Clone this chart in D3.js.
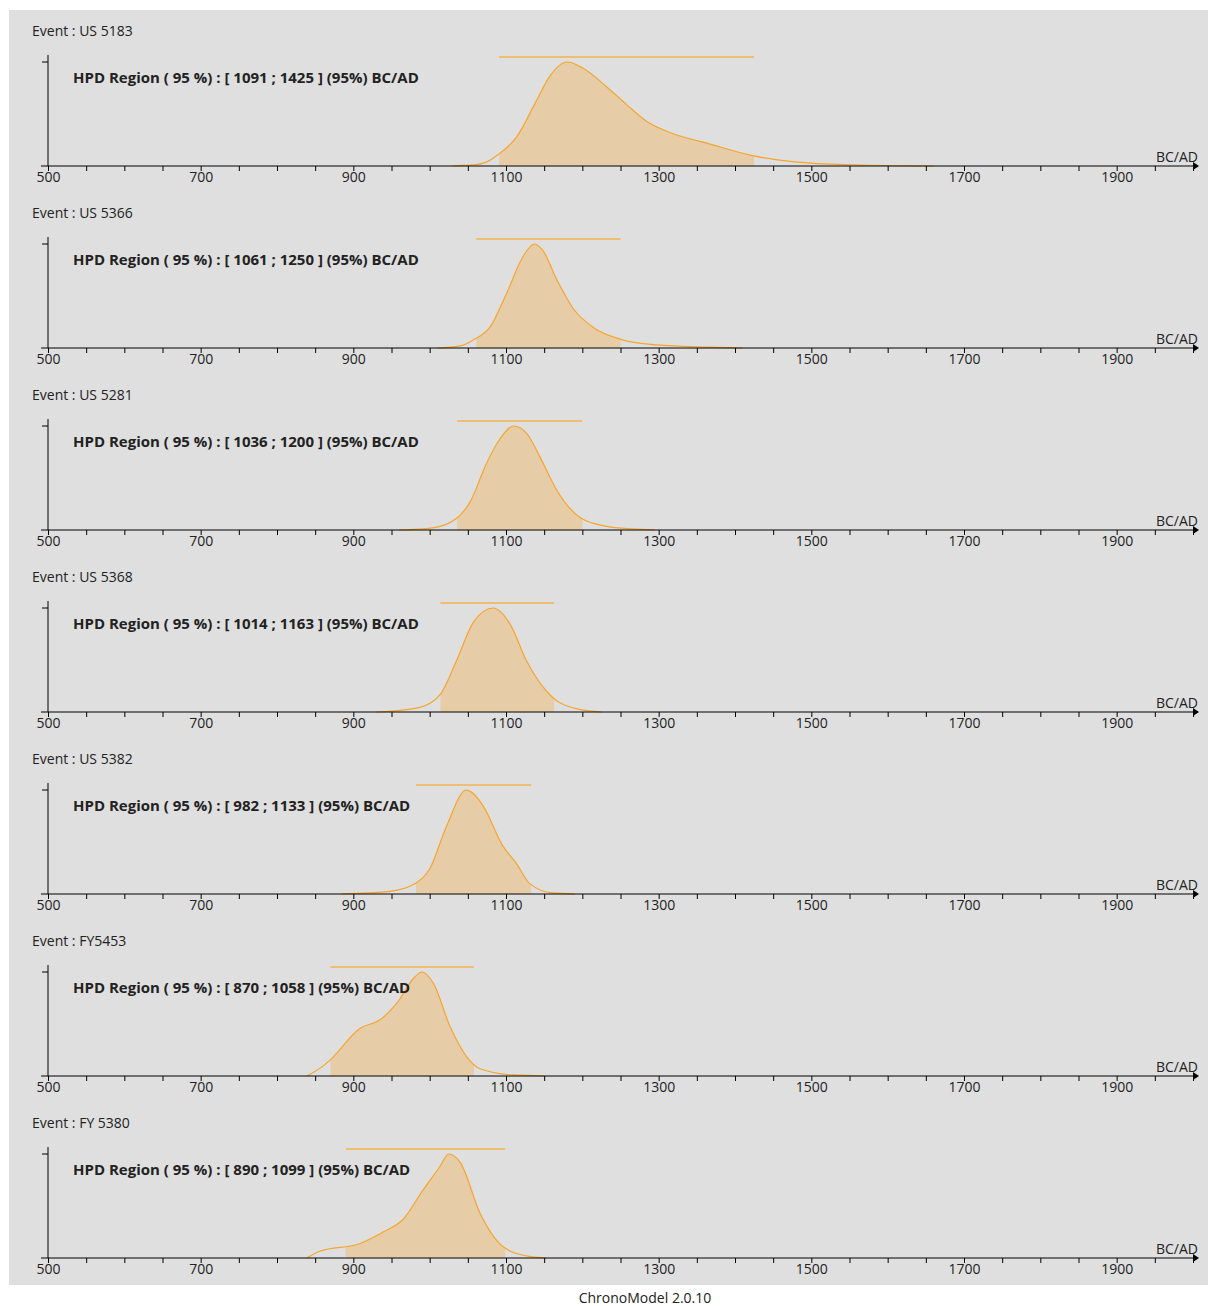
<!DOCTYPE html>
<html>
<head>
<meta charset="utf-8">
<script src="https://cdn.jsdelivr.net/npm/d3@7"></script>
<style>
  body { margin: 0; background: #ffffff; }
  svg text { font-family: "Open Sans", "Noto Sans", sans-serif; fill: #222; }
</style>
</head>
<body>
<div id="chart"></div>
<script>
// Event names and 95% HPD regions
const eventNames = ["US 5183", "US 5366", "US 5281", "US 5368", "US 5382", "FY5453", "FY 5380"];
const hpdStart = [1091, 1061, 1036, 1014, 982, 870, 890];
const hpdEnd = [1425, 1250, 1200, 1163, 1133, 1058, 1099];

// Posterior densities (year, relative density)
const densityUS5183 = [[1030, 0], [1057, 0.01], [1075, 0.04], [1089, 0.106], [1114, 0.28], [1140, 0.63], [1157, 0.86],
  [1180, 1.0], [1201, 0.94], [1232, 0.76], [1258, 0.59], [1284, 0.43], [1319, 0.31], [1363, 0.22], [1423, 0.10],
  [1494, 0.03], [1581, 0.007], [1660, 0]];
const densityUS5366 = [[1010, 0], [1040, 0.02], [1057, 0.077], [1079, 0.20], [1101, 0.53], [1122, 0.875], [1137, 1.0],
  [1148, 0.94], [1167, 0.65], [1188, 0.38], [1214, 0.20], [1249, 0.086], [1297, 0.03], [1363, 0.008], [1410, 0]];
const densityUS5281 = [[960, 0], [1004, 0.02], [1035, 0.11], [1053, 0.27], [1075, 0.65], [1092, 0.875], [1110, 1.0],
  [1127, 0.93], [1148, 0.65], [1166, 0.39], [1199, 0.11], [1232, 0.035], [1266, 0.01], [1295, 0]];
const densityUS5368 = [[930, 0], [944, 0.005], [987, 0.045], [1014, 0.17], [1035, 0.49], [1057, 0.86], [1083, 1.0],
  [1105, 0.85], [1127, 0.49], [1161, 0.14], [1193, 0.03], [1225, 0]];
const densityUS5382 = [[885, 0], [948, 0.025], [981, 0.10], [1000, 0.24], [1022, 0.65], [1048, 1.0], [1069, 0.86],
  [1096, 0.46], [1114, 0.29], [1131, 0.10], [1161, 0.01], [1190, 0]];
const densityFY5453 = [[839, 0], [861, 0.10], [869, 0.15], [909, 0.46], [935, 0.54], [957, 0.70], [979, 0.94],
  [990, 1.0], [1005, 0.89], [1027, 0.47], [1049, 0.18], [1066, 0.07], [1109, 0.01], [1150, 0]];
const densityFY5380 = [[839, 0], [856, 0.065], [909, 0.14], [939, 0.25], [965, 0.37], [991, 0.65], [1013, 0.875],
  [1025, 1.0], [1040, 0.92], [1066, 0.43], [1096, 0.11], [1127, 0.02], [1153, 0]];
const densities = [densityUS5183, densityUS5366, densityUS5281, densityUS5368, densityUS5382, densityFY5453, densityFY5380];

const tickYears = d3.range(500, 2001, 50);
const labelYears = [500, 700, 900, 1100, 1300, 1500, 1700, 1900];

const width = 1208, height = 1306;
const panelStep = 182;

const svg = d3.select("#chart").append("svg")
  .attr("width", width)
  .attr("height", height);

// Grey plot area
svg.append("rect")
  .attr("x", 9).attr("y", 10)
  .attr("width", width - 9).attr("height", 1275)
  .attr("fill", "#dfdfdf");

const x = d3.scaleLinear().domain([500, 2000]).range([48, 1193]);
const y = d3.scaleLinear().domain([0, 1]).range([166, 62]);

const line = d3.line()
  .x(d => x(d[0]))
  .y(d => y(d[1]))
  .curve(d3.curveMonotoneX);

const area = d3.area()
  .x(d => x(d[0]))
  .y0(y(0))
  .y1(d => y(d[1]))
  .curve(d3.curveMonotoneX);

eventNames.forEach((name, i) => {
  const g = svg.append("g").attr("transform", `translate(0, ${i * panelStep})`);

  g.append("text")
    .attr("x", 32).attr("y", 36)
    .attr("font-size", 14)
    .text("Event : " + name);

  // clip for the HPD-shaded part of the density
  g.append("clipPath")
    .attr("id", "hpd-clip-" + i)
    .append("rect")
    .attr("x", x(hpdStart[i])).attr("y", 0)
    .attr("width", x(hpdEnd[i]) - x(hpdStart[i]))
    .attr("height", y(0));

  g.append("path")
    .datum(densities[i])
    .attr("d", area)
    .attr("fill", "#e7cda7")
    .attr("clip-path", `url(#hpd-clip-${i})`);

  g.append("path")
    .datum(densities[i])
    .attr("d", line)
    .attr("fill", "none")
    .attr("stroke", "#f5a52c")
    .attr("stroke-width", 1.2);

  // HPD bar
  g.append("line")
    .attr("x1", x(hpdStart[i])).attr("x2", x(hpdEnd[i]))
    .attr("y1", y(1) - 5).attr("y2", y(1) - 5)
    .attr("stroke", "#f0bd74")
    .attr("stroke-width", 2);

  // y axis
  g.append("line")
    .attr("x1", 48).attr("x2", 48)
    .attr("y1", 55).attr("y2", y(0))
    .attr("stroke", "#000");
  g.append("line")
    .attr("x1", 42).attr("x2", 48)
    .attr("y1", y(1)).attr("y2", y(1))
    .attr("stroke", "#000");

  // x axis
  const axis = g.append("g")
    .attr("transform", `translate(0, ${y(0)})`)
    .call(d3.axisBottom(x)
      .tickValues(tickYears)
      .tickSize(5)
      .tickPadding(1)
      .tickFormat(v => labelYears.includes(v) ? v : ""));
  axis.select(".domain").remove();
  axis.selectAll(".tick line").attr("stroke", "#000");
  axis.selectAll(".tick text")
    .attr("font-size", 14)
    .attr("font-family", "'Open Sans', 'Noto Sans', sans-serif")
    .attr("fill", "#222");

  g.append("line")
    .attr("x1", 41).attr("x2", 1196)
    .attr("y1", y(0)).attr("y2", y(0))
    .attr("stroke", "#000");
  g.append("path")
    .attr("d", `M1193,${y(0) - 4}L1199,${y(0)}L1193,${y(0) + 4}Z`)
    .attr("fill", "#000");

  g.append("text")
    .attr("x", 1198).attr("y", y(0) - 4)
    .attr("text-anchor", "end")
    .attr("font-size", 14)
    .text("BC/AD");

  g.append("text")
    .attr("x", 73).attr("y", 83)
    .attr("font-size", 15)
    .attr("font-weight", "bold")
    .text(`HPD Region ( 95 %) : [ ${hpdStart[i]} ; ${hpdEnd[i]} ] (95%) BC/AD`);
});

svg.append("text")
  .attr("x", 645).attr("y", 1303)
  .attr("text-anchor", "middle")
  .attr("font-size", 14)
  .text("ChronoModel 2.0.10");
</script>
</body>
</html>
